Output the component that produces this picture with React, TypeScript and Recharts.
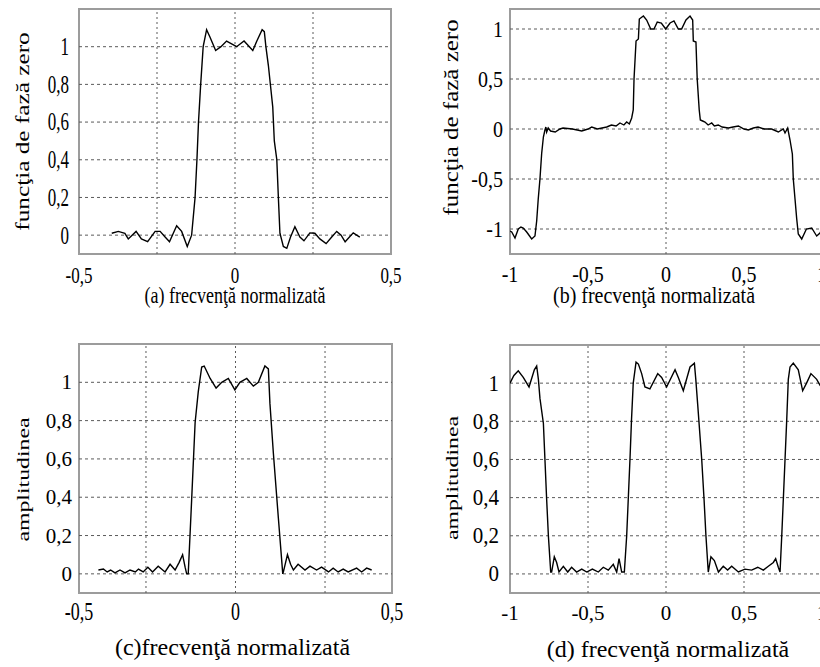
import React from 'react';
import { LineChart, Line, XAxis, YAxis, ReferenceLine, ReferenceArea } from 'recharts';

// (a) zero-phase response, normalized frequency -0.5..0.5
const aFreq = [
  -0.395, -0.374, -0.353, -0.342, -0.317, -0.3, -0.28, -0.256, -0.24, -0.224, -0.21, -0.187, -0.171, -0.153,
  -0.139, -0.128, -0.122, -0.117, -0.11, -0.102, -0.091, -0.08, -0.062, -0.045, -0.027, -0.005, 0.005, 0.029,
  0.057, 0.07, 0.087, 0.094, 0.099, 0.107, 0.114, 0.121, 0.126, 0.134, 0.139, 0.144, 0.155, 0.166, 0.178, 0.192,
  0.208, 0.221, 0.24, 0.256, 0.272, 0.292, 0.31, 0.326, 0.34, 0.353, 0.379, 0.4,
];
const aVal = [
  0.01, 0.02, 0.01, -0.02, 0.02, -0.02, -0.035, 0.02, 0.02, -0.01, -0.035, 0.05, 0.02, -0.06,
  0.0, 0.2, 0.4, 0.6, 0.8, 1.0, 1.09, 1.05, 0.98, 1.0, 1.03, 1.01, 1.0, 1.03,
  0.98, 1.03, 1.09, 1.08, 1.0, 0.9, 0.79, 0.68, 0.5, 0.4, 0.2, 0.01, -0.06, -0.07, -0.01, 0.045,
  -0.01, -0.03, 0.012, 0.01, -0.02, -0.045, -0.01, 0.02, 0.0, -0.035, 0.012, -0.01,
];

// (b) zero-phase response, -1..1
const bFreq = [
  -1, -0.989, -0.968, -0.947, -0.93, -0.915, -0.893, -0.861, -0.84, -0.829, -0.819, -0.808, -0.797, -0.786,
  -0.776, -0.77, -0.765, -0.755, -0.74, -0.71, -0.68, -0.66, -0.6, -0.54, -0.5, -0.476, -0.44, -0.41, -0.38,
  -0.35, -0.32, -0.295, -0.27, -0.252, -0.235, -0.22, -0.21, -0.205, -0.192, -0.177, -0.171, -0.145, -0.124,
  -0.098, -0.077, -0.056, -0.03, -0.002, 0.026, 0.051, 0.079, 0.1, 0.128, 0.154, 0.171, 0.175, 0.192, 0.2,
  0.213, 0.22, 0.235, 0.25, 0.27, 0.293, 0.31, 0.335, 0.36, 0.4, 0.43, 0.464, 0.5, 0.528, 0.56, 0.59, 0.63,
  0.677, 0.72, 0.752, 0.763, 0.78, 0.795, 0.81, 0.816, 0.827, 0.838, 0.848, 0.87, 0.9, 0.934, 0.966, 0.987, 1,
];
const bVal = [
  -1.02, -1.03, -1.09, -1.0, -0.98, -0.99, -1.03, -1.1, -1.07, -0.92, -0.7, -0.5, -0.245, -0.08,
  -0.01, 0.02, -0.03, 0.01, -0.02, -0.03, 0.0, 0.01, 0.0, -0.02, 0.0, 0.02, 0.0, 0.01, 0.02,
  0.04, 0.03, 0.06, 0.04, 0.07, 0.05, 0.11, 0.19, 0.5, 0.88, 0.9, 1.1, 1.13, 1.09,
  1.0, 1.0, 1.07, 1.06, 1.0, 1.06, 1.08, 1.0, 1.0, 1.09, 1.13, 1.09, 0.88, 0.87, 0.5,
  0.19, 0.09, 0.08, 0.07, 0.04, 0.06, 0.03, 0.04, 0.02, 0.01, 0.02, 0.03, 0.0, -0.01, 0.01, 0.02, 0.0,
  0.0, -0.03, 0.0, -0.04, 0.01, -0.11, -0.25, -0.5, -0.7, -0.9, -1.05, -1.1, -1.0, -0.99, -1.07, -1.04, -1.0,
];

// (c) amplitude, -0.5..0.5
const cFreq = [
  -0.438, -0.422, -0.41, -0.399, -0.385, -0.369, -0.353, -0.337, -0.32, -0.31, -0.295, -0.28, -0.265, -0.247,
  -0.225, -0.209, -0.193, -0.18, -0.169, -0.161, -0.156, -0.151, -0.14, -0.129, -0.119, -0.108, -0.1, -0.081,
  -0.062, -0.044, -0.023, -0.002, 0.014, 0.036, 0.057, 0.073, 0.094, 0.105, 0.11, 0.121, 0.137, 0.151, 0.153,
  0.166, 0.176, 0.185, 0.2, 0.222, 0.238, 0.259, 0.275, 0.297, 0.312, 0.328, 0.344, 0.36, 0.387, 0.403, 0.419,
  0.435,
];
const cVal = [
  0.02, 0.025, 0.01, 0.02, 0.005, 0.02, 0.005, 0.02, 0.01, 0.025, 0.01, 0.035, 0.01, 0.04,
  0.01, 0.05, 0.02, 0.06, 0.1, 0.035, 0.0, 0.0, 0.39, 0.79, 0.95, 1.08, 1.085, 1.02,
  0.97, 1.0, 1.02, 0.96, 1.0, 1.02, 0.98, 1.0, 1.085, 1.07, 0.89, 0.63, 0.29, 0.0, 0.01,
  0.1, 0.05, 0.02, 0.05, 0.02, 0.04, 0.02, 0.035, 0.01, 0.03, 0.01, 0.025, 0.01, 0.03, 0.01, 0.03,
  0.02,
];

// (d) amplitude, -1..1
const dFreq = [
  -1, -0.975, -0.947, -0.915, -0.878, -0.844, -0.829, -0.818, -0.808, -0.786, -0.776, -0.765, -0.754, -0.739,
  -0.733, -0.716, -0.701, -0.686, -0.658, -0.63, -0.605, -0.573, -0.54, -0.508, -0.472, -0.434, -0.402, -0.37,
  -0.338, -0.316, -0.301, -0.284, -0.267, -0.252, -0.242, -0.231, -0.221, -0.21, -0.192, -0.177, -0.156, -0.135,
  -0.103, -0.053, -0.028, 0.004, 0.058, 0.079, 0.111, 0.154, 0.182, 0.191, 0.203, 0.229, 0.244, 0.256, 0.271,
  0.288, 0.31, 0.336, 0.367, 0.395, 0.421, 0.464, 0.506, 0.549, 0.588, 0.624, 0.656, 0.688, 0.703, 0.72, 0.731,
  0.742, 0.752, 0.763, 0.774, 0.784, 0.795, 0.816, 0.848, 0.876, 0.901, 0.929, 0.966, 0.987, 1,
];
const dVal = [
  1.0, 1.04, 1.065, 1.03, 0.98, 1.07, 1.09, 1.02, 0.92, 0.79, 0.6, 0.39, 0.2, 0.01,
  0.01, 0.09, 0.06, 0.01, 0.04, 0.01, 0.035, 0.01, 0.025, 0.01, 0.025, 0.01, 0.035, 0.02,
  0.05, 0.01, 0.08, 0.01, 0.01, 0.2, 0.39, 0.6, 0.81, 1.0, 1.11, 1.1, 1.05, 0.98,
  0.97, 1.05, 1.03, 0.98, 1.07, 1.03, 0.96, 1.085, 1.105, 1.02, 0.89, 0.6, 0.39, 0.2, 0.01,
  0.09, 0.07, 0.01, 0.04, 0.02, 0.04, 0.01, 0.025, 0.02, 0.035, 0.02, 0.04, 0.06, 0.08, 0.035, 0.01,
  0.2, 0.39, 0.6, 0.81, 1.02, 1.085, 1.105, 1.07, 0.96, 1.0, 1.05, 1.02, 0.99, 1.0,
];

const halfTicks = [-0.5, 0, 0.5];
const fullTicks = [-1, -0.5, 0, 0.5, 1];
const ampTicks = [0, 0.2, 0.4, 0.6, 0.8, 1];
const phaseTicks = [-1, -0.5, 0, 0.5, 1];
const aGridX = [-0.25, 0, 0.25];
const bGridX = [0];
const cGridX = [-0.286, 0, 0.286];
const dGridX = [-0.5, 0, 0.5];

const FONT = '"Liberation Serif", "Times New Roman", serif';
const fmt = (v: number) => String(v).replace('.', ',');

type TextStyle = { size: number; stretch: number };

function XTick(props: any) {
  const { x, y, payload, st, base } = props;
  return (
    <g transform={`translate(${x},${y + base}) scale(1,${st.stretch})`}>
      <text textAnchor="middle" fontFamily={FONT} fontSize={st.size} fill="#000">
        {fmt(payload.value)}
      </text>
    </g>
  );
}

function YTick(props: any) {
  const { x, y, payload, st, gap } = props;
  return (
    <g transform={`translate(${x - gap},${y + 0.34 * st.size * st.stretch}) scale(1,${st.stretch})`}>
      <text textAnchor="end" fontFamily={FONT} fontSize={st.size} fill="#000">
        {fmt(payload.value)}
      </text>
    </g>
  );
}

function Panel(p: {
  freq: number[];
  val: number[];
  xDomain: [number, number];
  yDomain: [number, number];
  xTicks: number[];
  yTicks: number[];
  gridX: number[];
  left: number;
  top: number;
  width: number;
  height: number;
  plotLeft: number;
  plotTop: number;
  plotRight: number;
  plotBottom: number;
  xTickStyle: TextStyle;
  yTickStyle: TextStyle;
  xTickBase: number;
  yTickGap: number;
  title: string;
  titleStyle: TextStyle;
  titleDx: number;
  titleBase: number;
  yLabel: string;
  yLabelStyle: TextStyle;
  yLabelX: number;
  yLabelDy: number;
}) {
  const data = p.freq.map((f, i) => ({ f, v: p.val[i] }));
  return (
    <div style={{ position: 'absolute', left: p.left, top: p.top }}>
      <LineChart
        width={p.width}
        height={p.height}
        data={data}
        margin={{ top: p.plotTop, right: p.width - p.plotRight, left: 0, bottom: 0 }}
      >
        <XAxis
          dataKey="f"
          type="number"
          domain={p.xDomain}
          ticks={p.xTicks}
          allowDataOverflow
          axisLine={false}
          tickLine={false}
          tickSize={0}
          tickMargin={0}
          height={p.height - p.plotBottom}
          interval={0}
          tick={(tp: any) => <XTick {...tp} st={p.xTickStyle} base={p.xTickBase} />}
          label={(lp: any) => {
            const vb = lp.viewBox ?? { x: 0, y: 0, width: 0, height: 0 };
            return (
              <g
                transform={`translate(${vb.x + vb.width / 2 + p.titleDx},${vb.y + p.titleBase}) scale(1,${p.titleStyle.stretch})`}
              >
                <text textAnchor="middle" fontFamily={FONT} fontSize={p.titleStyle.size} fill="#000">
                  {p.title}
                </text>
              </g>
            );
          }}
        />
        <YAxis
          type="number"
          domain={p.yDomain}
          ticks={p.yTicks}
          allowDataOverflow
          axisLine={false}
          tickLine={false}
          tickSize={0}
          tickMargin={0}
          width={p.plotLeft}
          interval={0}
          tick={(tp: any) => <YTick {...tp} st={p.yTickStyle} gap={p.yTickGap} />}
          label={(lp: any) => {
            const vb = lp.viewBox ?? { x: 0, y: 0, width: 0, height: 0 };
            return (
              <g
                transform={`translate(${vb.x + p.yLabelX},${vb.y + vb.height / 2 + p.yLabelDy}) rotate(-90) scale(${p.yLabelStyle.stretch},1)`}
              >
                <text textAnchor="middle" fontFamily={FONT} fontSize={p.yLabelStyle.size} fill="#000">
                  {p.yLabel}
                </text>
              </g>
            );
          }}
        />
        {p.yTicks.map((v) => (
          <ReferenceLine key={'h' + v} y={v} stroke="#5a5a5a" strokeDasharray="3 3" strokeWidth={1} />
        ))}
        {p.gridX.map((v) => (
          <ReferenceLine key={'v' + v} x={v} stroke="#5a5a5a" strokeDasharray="2 3" strokeWidth={1} />
        ))}
        <Line
          type="linear"
          dataKey="v"
          stroke="#000"
          strokeWidth={1.4}
          dot={false}
          activeDot={false}
          isAnimationActive={false}
        />
        <ReferenceArea
          x1={p.xDomain[0]}
          x2={p.xDomain[1]}
          y1={p.yDomain[0]}
          y2={p.yDomain[1]}
          fill="none"
          fillOpacity={0}
          stroke="#9c9c9c"
          strokeWidth={2}
        />
      </LineChart>
    </div>
  );
}

export default function App() {
  return (
    <div
      style={{
        position: 'absolute',
        left: 0,
        top: 0,
        width: 820,
        height: 667,
        overflow: 'hidden',
        background: '#fff',
      }}
    >
      <Panel
        freq={aFreq}
        val={aVal}
        xDomain={[-0.5, 0.5]}
        yDomain={[-0.1, 1.2]}
        xTicks={halfTicks}
        yTicks={ampTicks}
        gridX={aGridX}
        left={0}
        top={0}
        width={410}
        height={320}
        plotLeft={79}
        plotTop={9}
        plotRight={391}
        plotBottom={254}
        xTickStyle={{ size: 17, stretch: 1.4 }}
        yTickStyle={{ size: 17, stretch: 1.45 }}
        xTickBase={29}
        yTickGap={10}
        title="(a) frecvenţă normalizată"
        titleStyle={{ size: 18, stretch: 1.3 }}
        titleDx={0}
        titleBase={49}
        yLabel="funcţia de fază zero"
        yLabelStyle={{ size: 19, stretch: 1.33 }}
        yLabelX={29}
        yLabelDy={0}
      />
      <Panel
        freq={bFreq}
        val={bVal}
        xDomain={[-1, 1]}
        yDomain={[-1.25, 1.2]}
        xTicks={fullTicks}
        yTicks={phaseTicks}
        gridX={bGridX}
        left={410}
        top={0}
        width={420}
        height={320}
        plotLeft={100}
        plotTop={9}
        plotRight={412}
        plotBottom={254}
        xTickStyle={{ size: 20, stretch: 1.2 }}
        yTickStyle={{ size: 20, stretch: 1.2 }}
        xTickBase={28}
        yTickGap={7}
        title="(b) frecvenţă normalizată"
        titleStyle={{ size: 20, stretch: 1.15 }}
        titleDx={-12}
        titleBase={49}
        yLabel="funcţia de fază zero"
        yLabelStyle={{ size: 20, stretch: 1.25 }}
        yLabelX={48}
        yLabelDy={-14}
      />
      <Panel
        freq={cFreq}
        val={cVal}
        xDomain={[-0.5, 0.5]}
        yDomain={[-0.1, 1.2]}
        xTicks={halfTicks}
        yTicks={ampTicks}
        gridX={cGridX}
        left={0}
        top={320}
        width={410}
        height={347}
        plotLeft={79}
        plotTop={24}
        plotRight={392}
        plotBottom={273}
        xTickStyle={{ size: 18, stretch: 1.35 }}
        yTickStyle={{ size: 21, stretch: 1.0 }}
        xTickBase={27}
        yTickGap={7}
        title="(c)frecvenţă normalizată"
        titleStyle={{ size: 24, stretch: 1.0 }}
        titleDx={-3}
        titleBase={62}
        yLabel="amplitudinea"
        yLabelStyle={{ size: 17, stretch: 1.4 }}
        yLabelX={29}
        yLabelDy={11}
      />
      <Panel
        freq={dFreq}
        val={dVal}
        xDomain={[-1, 1]}
        yDomain={[-0.1, 1.2]}
        xTicks={fullTicks}
        yTicks={ampTicks}
        gridX={dGridX}
        left={410}
        top={320}
        width={420}
        height={347}
        plotLeft={100}
        plotTop={25}
        plotRight={412}
        plotBottom={273}
        xTickStyle={{ size: 21, stretch: 1.0 }}
        yTickStyle={{ size: 21, stretch: 1.05 }}
        xTickBase={27}
        yTickGap={11}
        title="(d)  frecvenţă normalizată"
        titleStyle={{ size: 24, stretch: 1.0 }}
        titleDx={2}
        titleBase={64}
        yLabel="amplitudinea"
        yLabelStyle={{ size: 17, stretch: 1.4 }}
        yLabelX={48}
        yLabelDy={9}
      />
    </div>
  );
}
